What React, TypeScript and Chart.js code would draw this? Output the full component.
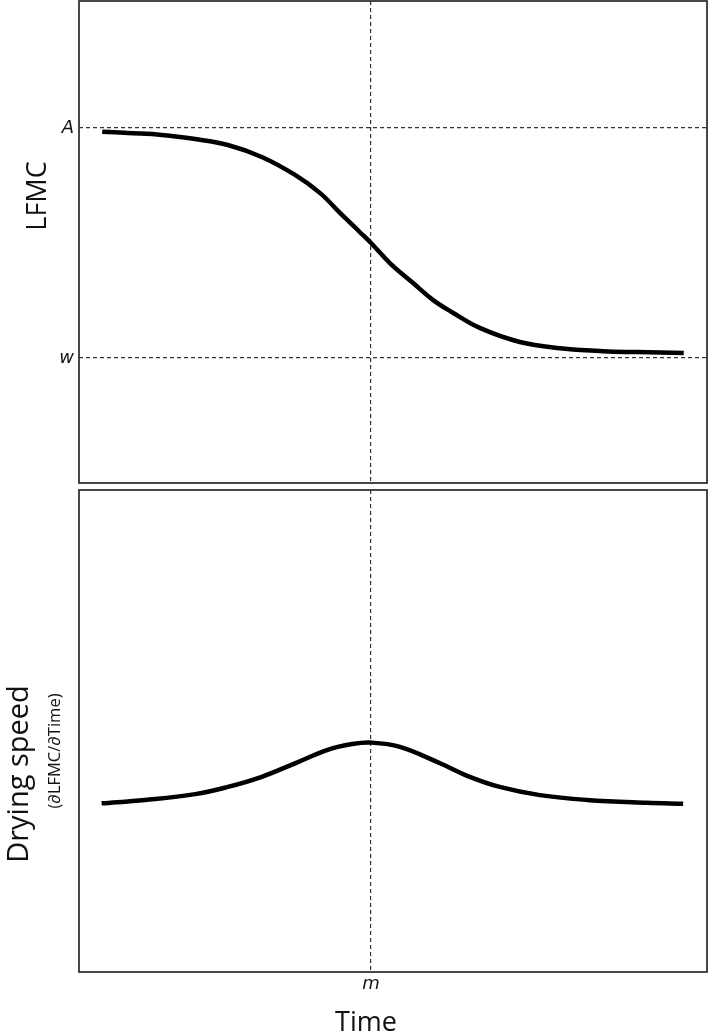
import React, { useEffect, useRef } from 'react';
import { Chart, registerables } from 'chart.js';
Chart.register(...registerables);

// ---- data ----
const timeTop = [3.7, 7.8, 13.2, 18.5, 23.7, 29.1, 34.4, 38.4, 41.6, 44.7, 46.5, 49.5, 53.2, 56.4, 59.6, 63.9, 70.2, 76.6, 83.4, 88.9, 96.3];
const lfmc = [0.984, 0.978, 0.97, 0.952, 0.926, 0.874, 0.796, 0.717, 0.63, 0.548, 0.5, 0.413, 0.326, 0.252, 0.196, 0.13, 0.07, 0.043, 0.03, 0.026, 0.022];
const timeBottom = [3.6, 10.5, 18.5, 23.7, 29.1, 34.4, 39.6, 43.5, 46.5, 51.1, 57.5, 61.8, 67.0, 73.4, 80.9, 90.4, 96.2];
const dryingSpeed = [0.35, 0.357, 0.369, 0.384, 0.405, 0.433, 0.461, 0.473, 0.476, 0.467, 0.433, 0.407, 0.384, 0.367, 0.357, 0.351, 0.349];
const mTime = [46.5];
const mLabels = ['m'];
const levelValues = [0, 1];
const levelLabels = ['w', 'A'];
const titles = { top: 'LFMC', bottom: 'Drying speed', bottomSub: '(∂LFMC/∂Time)', x: 'Time' };

const W = 709;
const TOP_H = 487;
const BOT_H = 549;
const TITLE_FONT = '"Open Sans", "Noto Sans", sans-serif';
const TICK_FONT = { family: '"DejaVu Sans", sans-serif', style: 'italic' as const, size: 18 };
const DASH = [4, 3];
const GRID_COLOR = '#333';

const framePlugin = {
  id: 'frame',
  afterDraw(chart: any) {
    const { ctx, chartArea: a } = chart;
    ctx.save();
    ctx.strokeStyle = '#333';
    ctx.lineWidth = 1.8;
    ctx.strokeRect(a.left, a.top, a.right - a.left, a.bottom - a.top);
    ctx.restore();
  },
};

function textPlugin(items: { text: string; x: number; y: number; size: number; rot: boolean }[]) {
  return {
    id: 'texts',
    afterDraw(chart: any) {
      const ctx = chart.ctx;
      items.forEach((it) => {
        ctx.save();
        ctx.translate(it.x, it.y);
        if (it.rot) ctx.rotate(-Math.PI / 2);
        ctx.font = `${it.size}px ${TITLE_FONT}`;
        ctx.fillStyle = '#111';
        ctx.textAlign = 'center';
        ctx.textBaseline = 'middle';
        ctx.fillText(it.text, 0, 0);
        ctx.restore();
      });
    },
  };
}

const xScale = (showLabel: boolean, height: number) => ({
  type: 'linear' as const,
  min: 0,
  max: 100,
  afterBuildTicks: (s: any) => {
    s.ticks = mTime.map((v) => ({ value: v }));
  },
  ticks: {
    display: showLabel,
    autoSkip: false,
    maxRotation: 0,
    font: TICK_FONT,
    color: '#111',
    padding: 2,
    callback: (v: any) => mLabels[mTime.indexOf(Number(v))] ?? '',
  },
  grid: { drawTicks: false, color: GRID_COLOR, lineWidth: 1.2 },
  border: { display: false, dash: DASH },
  afterFit: (s: any) => {
    s.height = height;
    s.paddingLeft = 0;
    s.paddingRight = 0;
  },
});

const lineStyle = {
  borderColor: '#000',
  borderWidth: 4.5,
  pointRadius: 0,
  tension: 0.4,
  borderCapStyle: 'butt',
  fill: false,
};

export default function App() {
  const topRef = useRef<HTMLCanvasElement>(null);
  const botRef = useRef<HTMLCanvasElement>(null);

  useEffect(() => {
    const c1 = new Chart(topRef.current!, {
      type: 'line',
      data: {
        datasets: [{ data: timeTop.map((t, i) => ({ x: t, y: lfmc[i] })), ...lineStyle }],
      },
      options: {
        responsive: false,
        animation: false,
        layout: { padding: { top: 1, right: 2, bottom: 4, left: 0 } },
        plugins: { legend: { display: false }, tooltip: { enabled: false } },
        scales: {
          x: xScale(false, 0),
          y: {
            type: 'linear',
            min: -0.543,
            max: 1.552,
            afterBuildTicks: (s: any) => {
              s.ticks = levelValues.map((v) => ({ value: v }));
            },
            ticks: {
              autoSkip: false,
              font: TICK_FONT,
              color: '#111',
              padding: 5,
              callback: (v: any) => levelLabels[levelValues.indexOf(Number(v))] ?? '',
            },
            grid: { drawTicks: false, color: GRID_COLOR, lineWidth: 1.2 },
            border: { display: false, dash: DASH },
            afterFit: (s: any) => {
              s.width = 79;
              s.paddingTop = 0;
              s.paddingBottom = 0;
            },
          },
        },
      },
      plugins: [framePlugin, textPlugin([{ text: titles.top, x: 38, y: 196, size: 27, rot: true }])],
    } as any);

    const c2 = new Chart(botRef.current!, {
      type: 'line',
      data: {
        datasets: [{ data: timeBottom.map((t, i) => ({ x: t, y: dryingSpeed[i] })), ...lineStyle }],
      },
      options: {
        responsive: false,
        animation: false,
        layout: { padding: { top: 3, right: 2, bottom: 0, left: 0 } },
        plugins: { legend: { display: false }, tooltip: { enabled: false } },
        scales: {
          x: xScale(true, 64),
          y: {
            type: 'linear',
            min: 0,
            max: 1,
            ticks: { display: false },
            grid: { display: false },
            border: { display: false },
            afterFit: (s: any) => {
              s.width = 79;
              s.paddingTop = 0;
              s.paddingBottom = 0;
            },
          },
        },
      },
      plugins: [
        framePlugin,
        textPlugin([
          { text: titles.bottom, x: 20, y: 287, size: 29, rot: true },
          { text: titles.bottomSub, x: 55, y: 264, size: 16.5, rot: true },
          { text: titles.x, x: 366, y: 536, size: 27, rot: false },
        ]),
      ],
    } as any);

    return () => {
      c1.destroy();
      c2.destroy();
    };
  }, []);

  return (
    <div style={{ position: 'absolute', left: 0, top: 0, width: W, height: TOP_H + BOT_H, background: '#fff' }}>
      <canvas ref={topRef} width={W} height={TOP_H} style={{ position: 'absolute', left: 0, top: 0, width: W, height: TOP_H }} />
      <canvas ref={botRef} width={W} height={BOT_H} style={{ position: 'absolute', left: 0, top: TOP_H, width: W, height: BOT_H }} />
    </div>
  );
}
